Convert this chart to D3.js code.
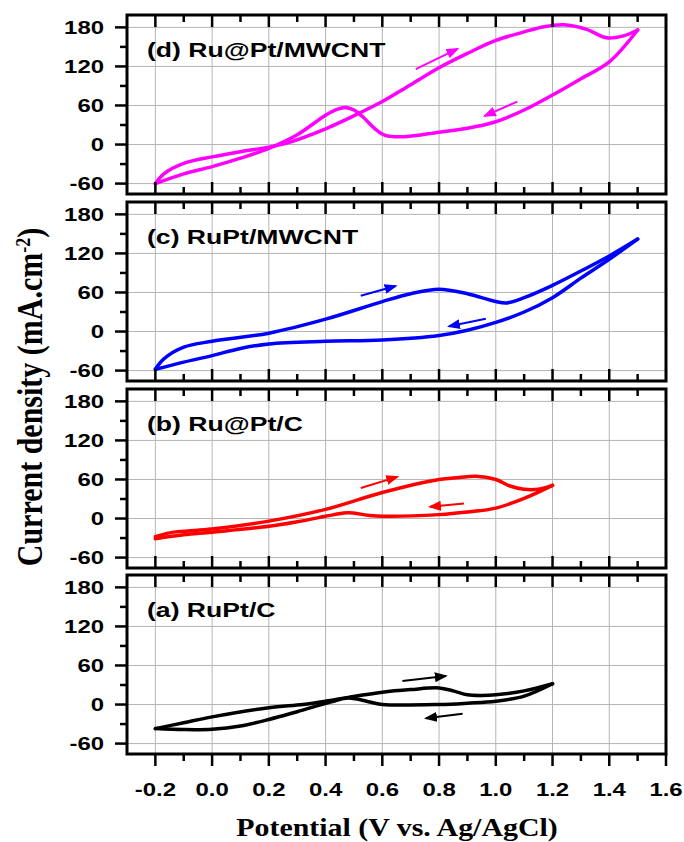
<!DOCTYPE html>
<html>
<head>
<meta charset="utf-8">
<script src="https://cdn.jsdelivr.net/npm/d3@7"></script>
<style>
  body { margin: 0; background: #fff; }
</style>
</head>
<body>
<script>
const width = 684;
const height = 842;

// axes
const potentialTicks = [-0.2, 0, 0.2, 0.4, 0.6, 0.8, 1.0, 1.2, 1.4, 1.6];
const currentTicks = [-60, 0, 60, 120, 180];
const currentMinor = [-30, 30, 90, 150];

// panels, top to bottom
const panelLabels = ["(d) Ru@Pt/MWCNT", "(c) RuPt/MWCNT", "(b) Ru@Pt/C", "(a) RuPt/C"];
const panelColors = ["#ff00ff", "#0000ff", "#ff0000", "#000000"];

// [potential V, current density mA cm-2]
const dForward = [[-0.2,-60],[-0.17,-45],[-0.1,-29],[0.0,-19],[0.1,-11],[0.2,-4],[0.27,3],[0.4,24],[0.47,38],[0.6,66],[0.7,92],[0.8,118],[0.9,140],[1.0,160],[1.1,173],[1.17,181],[1.24,184],[1.32,177],[1.39,164],[1.45,167],[1.5,176]];
const dReverse = [[1.5,176],[1.4,127],[1.3,101],[1.2,76],[1.1,53],[1.0,35],[0.9,25],[0.8,19],[0.68,12],[0.61,14],[0.58,22],[0.53,43],[0.5,53],[0.47,57],[0.44,54],[0.4,45],[0.3,15],[0.2,-6],[0.1,-21],[0.0,-34],[-0.1,-45],[-0.2,-60]];

const cForward = [[-0.2,-58],[-0.17,-42],[-0.1,-24],[0.0,-15],[0.2,-2.5],[0.4,19],[0.6,46],[0.7,58],[0.8,65],[0.9,58],[1.0,46],[1.04,44],[1.1,52],[1.2,71],[1.3,93],[1.4,116],[1.5,142]];
const cReverse = [[1.5,142],[1.4,111],[1.3,82],[1.2,52],[1.1,30],[1.0,14],[0.9,2],[0.8,-6],[0.6,-13],[0.4,-15],[0.2,-19],[0.1,-26],[0.0,-37],[-0.1,-47],[-0.2,-58]];

const bForward = [[-0.2,-28],[-0.15,-22],[-0.1,-19.5],[0.0,-16],[0.2,-4],[0.4,14],[0.6,40],[0.8,60],[0.87,63],[0.93,65],[1.0,60],[1.05,50],[1.1,45],[1.15,45],[1.2,51]];
const bReverse = [[1.2,51],[1.1,31],[1.0,16],[0.9,10],[0.8,6],[0.6,3.5],[0.55,5],[0.48,9],[0.43,6],[0.4,3.5],[0.3,-5],[0.2,-12],[0.0,-21],[-0.1,-25],[-0.2,-31]];

const aForward = [[-0.2,-37],[-0.1,-28],[0.0,-19],[0.2,-5],[0.32,0],[0.4,5],[0.48,11],[0.6,19],[0.7,23],[0.8,25.5],[0.85,21],[0.9,15],[0.95,14],[1.0,15],[1.1,21],[1.2,32]];
const aReverse = [[1.2,32],[1.1,13],[1.0,5],[0.9,2],[0.8,0],[0.6,0],[0.56,3.5],[0.48,10],[0.42,4],[0.3,-11],[0.2,-23],[0.1,-33],[0.0,-38],[-0.1,-38.5],[-0.2,-37]];

// scan direction arrows: [V1, j1, V2, j2]
const dArrows = [[0.718,116,0.865,147],[1.076,66,0.961,44]];
const cArrows = [[0.524,55,0.647,70],[0.965,19.5,0.835,8]];
const bArrows = [[0.524,47,0.653,64],[0.888,23,0.768,18]];
const aArrows = [[0.671,36,0.824,44],[0.883,-14,0.754,-21]];

const panels = [
  { fwd: dForward, rev: dReverse, arrows: dArrows },
  { fwd: cForward, rev: cReverse, arrows: cArrows },
  { fwd: bForward, rev: bReverse, arrows: bArrows },
  { fwd: aForward, rev: aReverse, arrows: aArrows }
];

const sans = "'Liberation Sans', Arial, sans-serif";
const serif = "'Liberation Serif', 'Times New Roman', serif";
const stretch = 1.33;

const left = 127, right = 666;
const tops = [15, 202, 389, 575];
const panelH = 179;

const svg = d3.select("body").append("svg")
  .attr("width", width)
  .attr("height", height)
  .style("background", "#fff");

const defs = svg.append("defs");
panelColors.forEach((c, i) => {
  defs.append("marker")
    .attr("id", "head" + i)
    .attr("markerUnits", "userSpaceOnUse")
    .attr("markerWidth", 13).attr("markerHeight", 10)
    .attr("refX", 11).attr("refY", 5)
    .attr("orient", "auto")
    .append("path")
    .attr("d", "M0,0 L13,5 L0,10 Z")
    .attr("fill", c);
});

const x = d3.scaleLinear().domain([-0.3, 1.6]).range([left, right]);
const xMinor = d3.range(-1, 16, 2).map(k => k / 10);

panels.forEach((p, i) => {
  const top = tops[i];
  const y = d3.scaleLinear().domain([-76, 199]).range([top + panelH, top]);
  const g = svg.append("g");
  const color = panelColors[i];

  // grid
  g.selectAll("line.vg").data(potentialTicks.filter(v => v < 1.55))
    .join("line").attr("class", "vg")
    .attr("x1", d => x(d)).attr("x2", d => x(d))
    .attr("y1", top).attr("y2", top + panelH)
    .attr("stroke", "#b4b4b4").attr("stroke-width", 1);
  g.selectAll("line.hg").data(currentTicks)
    .join("line").attr("class", "hg")
    .attr("x1", left).attr("x2", right)
    .attr("y1", d => y(d)).attr("y2", d => y(d))
    .attr("stroke", "#b4b4b4").attr("stroke-width", 1);

  // curves
  const line = d3.line()
    .x(d => x(d[0]))
    .y(d => y(d[1]))
    .curve(d3.curveCatmullRom.alpha(0.5));
  [p.fwd, p.rev].forEach(s => {
    g.append("path")
      .attr("d", line(s))
      .attr("fill", "none")
      .attr("stroke", color)
      .attr("stroke-width", 3.5)
      .attr("stroke-linejoin", "round")
      .attr("stroke-linecap", "round");
  });

  // arrows
  p.arrows.forEach(a => {
    g.append("line")
      .attr("x1", x(a[0])).attr("y1", y(a[1]))
      .attr("x2", x(a[2])).attr("y2", y(a[3]))
      .attr("stroke", color)
      .attr("stroke-width", 2)
      .attr("marker-end", `url(#head${i})`);
  });

  // left ticks (outward)
  g.selectAll("line.yt").data(currentTicks)
    .join("line").attr("class", "yt")
    .attr("x1", left - 12).attr("x2", left)
    .attr("y1", d => y(d)).attr("y2", d => y(d))
    .attr("stroke", "#000").attr("stroke-width", 2.5);
  g.selectAll("line.ym").data(currentMinor)
    .join("line").attr("class", "ym")
    .attr("x1", left - 7).attr("x2", left)
    .attr("y1", d => y(d)).attr("y2", d => y(d))
    .attr("stroke", "#000").attr("stroke-width", 2.5);

  // top ticks (inward)
  g.selectAll("line.tt").data(potentialTicks.filter(v => v < 1.55))
    .join("line").attr("class", "tt")
    .attr("x1", d => x(d)).attr("x2", d => x(d))
    .attr("y1", top).attr("y2", top + 12)
    .attr("stroke", "#000").attr("stroke-width", 2.5);
  g.selectAll("line.tm").data(xMinor)
    .join("line").attr("class", "tm")
    .attr("x1", d => x(d)).attr("x2", d => x(d))
    .attr("y1", top).attr("y2", top + 7)
    .attr("stroke", "#000").attr("stroke-width", 2.5);

  // bottom ticks: inward, outward on the last panel
  const bottom = top + panelH;
  const dir = i === 3 ? 1 : -1;
  g.selectAll("line.bt").data(potentialTicks.filter(v => v < 1.55 || i === 3))
    .join("line").attr("class", "bt")
    .attr("x1", d => x(d)).attr("x2", d => x(d))
    .attr("y1", bottom).attr("y2", bottom + dir * 12)
    .attr("stroke", "#000").attr("stroke-width", 2.5);
  g.selectAll("line.bm").data(xMinor)
    .join("line").attr("class", "bm")
    .attr("x1", d => x(d)).attr("x2", d => x(d))
    .attr("y1", bottom).attr("y2", bottom + dir * 7)
    .attr("stroke", "#000").attr("stroke-width", 2.5);

  // frame
  g.append("rect")
    .attr("x", left).attr("y", top)
    .attr("width", right - left).attr("height", panelH)
    .attr("fill", "none")
    .attr("stroke", "#000").attr("stroke-width", 3);

  // y labels
  g.selectAll("text.yl").data(currentTicks)
    .join("text").attr("class", "yl")
    .attr("transform", d => `translate(104,${y(d)}) scale(${stretch},1)`)
    .attr("dy", "0.36em")
    .attr("text-anchor", "end")
    .attr("font-family", sans)
    .attr("font-weight", "bold")
    .attr("font-size", 18)
    .text(d => String(d));

  // panel label
  g.append("text")
    .attr("transform", `translate(147,${top + 42}) scale(${stretch},1)`)
    .attr("font-family", sans)
    .attr("font-weight", "bold")
    .attr("font-size", 20)
    .text(panelLabels[i]);
});

// x tick labels
svg.selectAll("text.xl").data(potentialTicks)
  .join("text").attr("class", "xl")
  .attr("transform", d => `translate(${x(d)},796) scale(${stretch},1)`)
  .attr("text-anchor", "middle")
  .attr("font-family", sans)
  .attr("font-weight", "bold")
  .attr("font-size", 18)
  .text(d => d3.format(".1f")(d).replace("\u2212", "-"));

// axis titles
svg.append("text")
  .attr("transform", "translate(397,836) scale(1.15,1)")
  .attr("text-anchor", "middle")
  .attr("font-family", serif)
  .attr("font-weight", "bold")
  .attr("font-size", 26)
  .text("Potential (V vs. Ag/AgCl)");

const yTitle = svg.append("text")
  .attr("transform", "translate(42,397) rotate(-90) scale(1,1.2)")
  .attr("text-anchor", "middle")
  .attr("font-family", serif)
  .attr("font-weight", "bold")
  .attr("font-size", 30);
yTitle.append("tspan").text("Current density (mA.cm");
yTitle.append("tspan").attr("baseline-shift", "super").attr("font-size", 18).text("-2");
yTitle.append("tspan").text(")");
</script>
</body>
</html>
